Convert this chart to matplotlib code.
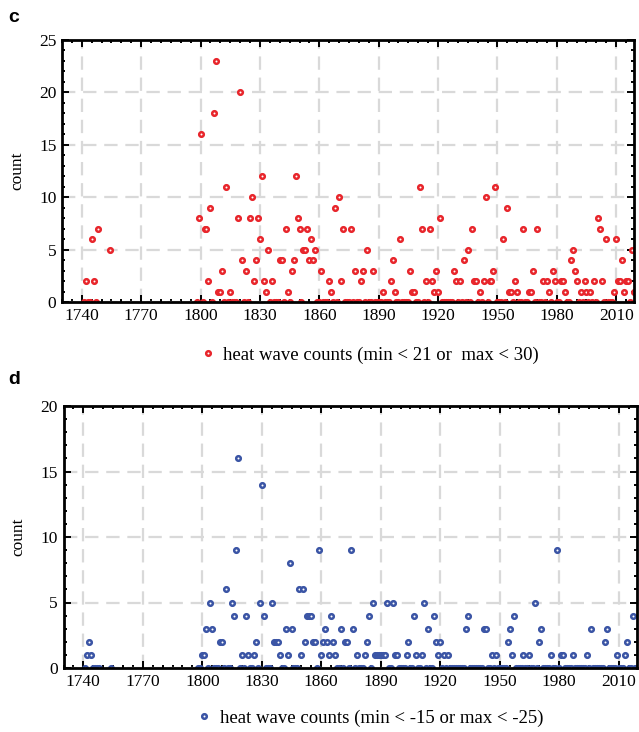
import matplotlib
matplotlib.use("Agg")
from matplotlib import pyplot as plt
from matplotlib.lines import Line2D
from matplotlib.ticker import MultipleLocator

# years with data: a few early years, then yearly 1798-2019
early_years = [1741, 1742, 1743, 1744, 1745, 1746, 1747, 1748, 1754]
main_years = list(range(1798, 2020))

# panel c: heat wave counts (min < 21 or max < 30)
c_early = [0, 2, 0, 0, 6, 2, 0, 7, 5]
c_main = [
    0, 8,                               # 1798-1799
    16, 0, 7, 7, 2, 9, 0, 18, 23, 1,    # 1800s
    1, 3, 0, 11, 0, 1, 0, 0, 0, 8,      # 1810s
    20, 4, 0, 3, 0, 8, 10, 2, 4, 8,     # 1820s
    6, 12, 2, 1, 5, 0, 2, 0, 0, 0,      # 1830s
    4, 4, 0, 7, 1, 0, 3, 4, 12, 8,      # 1840s
    7, 0, 5, 5, 7, 4, 6, 4, 5, 0,       # 1850s
    0, 3, 0, 0, 0, 2, 1, 0, 9, 0,       # 1860s
    10, 2, 7, 0, 0, 0, 7, 0, 3, 0,      # 1870s
    0, 2, 3, 0, 5, 0, 0, 3, 0, 0,       # 1880s
    0, 0, 1, 0, 0, 0, 2, 4, 1, 0,       # 1890s
    0, 6, 0, 0, 0, 0, 3, 1, 1, 0,       # 1900s
    0, 11, 7, 0, 2, 0, 7, 2, 1, 3,      # 1910s
    1, 8, 0, 0, 0, 0, 0, 0, 3, 2,       # 1920s
    0, 2, 0, 4, 0, 5, 0, 7, 2, 2,       # 1930s
    0, 1, 0, 2, 10, 0, 2, 2, 3, 11,     # 1940s
    0, 0, 0, 6, 0, 9, 1, 1, 0, 2,       # 1950s
    1, 0, 0, 7, 0, 0, 1, 1, 3, 0,       # 1960s
    7, 0, 0, 2, 0, 2, 1, 0, 3, 2,       # 1970s
    0, 0, 2, 2, 1, 0, 0, 4, 5, 3,       # 1980s
    2, 0, 1, 0, 2, 1, 0, 1, 0, 2,       # 1990s
    0, 8, 7, 2, 0, 6, 0, 0, 0, 1,       # 2000s
    6, 2, 2, 4, 1, 2, 2, 0, 5, 1,       # 2010s
]

# panel d: counts (min < -15 or max < -25)
d_early = [0, 1, 2, 1, 0, 0, 0, 0, 0]
d_main = [
    0, 0,                               # 1798-1799
    1, 1, 3, 0, 5, 3, 0, 0, 0, 2,       # 1800s
    2, 0, 6, 0, 0, 5, 4, 9, 16, 0,      # 1810s
    1, 0, 4, 1, 0, 0, 1, 2, 0, 5,       # 1820s
    14, 4, 0, 0, 0, 5, 2, 2, 2, 1,      # 1830s
    0, 0, 3, 1, 8, 3, 0, 0, 0, 6,       # 1840s
    1, 6, 2, 4, 4, 4, 2, 2, 0, 9,       # 1850s
    1, 2, 3, 2, 1, 4, 2, 1, 0, 0,       # 1860s
    3, 0, 2, 2, 0, 9, 3, 0, 1, 0,       # 1870s
    0, 0, 1, 2, 4, 0, 5, 1, 1, 1,       # 1880s
    1, 1, 1, 5, 0, 0, 5, 1, 1, 0,       # 1890s
    0, 0, 0, 1, 2, 0, 0, 4, 1, 0,       # 1900s
    0, 1, 5, 0, 3, 0, 0, 4, 2, 1,       # 1910s
    2, 0, 1, 0, 1, 0, 0, 0, 0, 0,       # 1920s
    0, 0, 0, 3, 4, 0, 0, 0, 0, 0,       # 1930s
    0, 0, 3, 3, 0, 0, 1, 0, 1, 0,       # 1940s
    0, 0, 0, 0, 2, 3, 1, 4, 0, 0,       # 1950s
    0, 0, 1, 0, 0, 1, 0, 0, 5, 0,       # 1960s
    2, 3, 0, 0, 0, 0, 1, 0, 0, 9,       # 1970s
    0, 1, 1, 0, 0, 0, 0, 1, 0, 0,       # 1980s
    0, 0, 0, 0, 1, 0, 3, 0, 0, 0,       # 1990s
    0, 0, 0, 2, 3, 0, 0, 0, 0, 1,       # 2000s
    0, 0, 0, 1, 2, 0, 0, 4, 0, 0,       # 2010s
]

x_ticks = [1740, 1770, 1800, 1830, 1860, 1890, 1920, 1950, 1980, 2010]
RED = "#e8262c"
BLUE = "#3b55a5"

plt.rcParams["font.family"] = "Liberation Serif"

MS = 3.3
MEW = 1.8


def style_axes(ax, ymax):
    ax.set_xlim(1730, 2019)
    ax.set_ylim(0, ymax)
    ax.set_xticks(x_ticks)
    ax.xaxis.set_minor_locator(MultipleLocator(5))
    ax.yaxis.set_major_locator(MultipleLocator(5))
    ax.yaxis.set_minor_locator(MultipleLocator(1))
    ax.tick_params(which="both", direction="in", top=True, right=True,
                   labelsize=12.5, width=1.4, pad=4)
    ax.tick_params(which="major", length=5)
    ax.tick_params(which="minor", length=2.5)
    ax.grid(True, which="major", color="#d9d9d9", linestyle=(0, (6, 3.5)), linewidth=1.6)
    ax.set_axisbelow(True)
    for s in ax.spines.values():
        s.set_linewidth(2)
    ax.set_ylabel("count", fontsize=12.5, labelpad=10)


def plot_panel(ax, early, main, color):
    years = early_years + main_years
    vals = early + main
    ax.plot(years, vals, linestyle="none", marker="o", markersize=MS,
            markerfacecolor="white", markeredgecolor=color, markeredgewidth=MEW)


fig = plt.figure(figsize=(6.39, 7.32), dpi=100)
ax_c = fig.add_axes([62 / 639, 1 - 302 / 732, 572 / 639, 262 / 732])
ax_d = fig.add_axes([63.5 / 639, 1 - 668 / 732, 573 / 639, 262 / 732])

plot_panel(ax_c, c_early, c_main, RED)
style_axes(ax_c, 25)
plot_panel(ax_d, d_early, d_main, BLUE)
style_axes(ax_d, 20)

for color, label, ypos in [
    (RED, "heat wave counts (min < 21 or  max < 30)", 355 / 732),
    (BLUE, "heat wave counts (min < -15 or max < -25)", 718 / 732),
]:
    h = Line2D([], [], linestyle="none", marker="o", markersize=MS,
               markerfacecolor="white", markeredgecolor=color, markeredgewidth=MEW)
    fig.legend([h], [label], loc="center", bbox_to_anchor=(371 / 639, 1 - ypos),
               frameon=False, fontsize=13.5, handlelength=0.5, handletextpad=0.6)

fig.text(8 / 639, 1 - 18 / 732, "c", fontsize=14, fontweight="bold",
         family="Liberation Sans", va="center")
fig.text(8 / 639, 1 - 380 / 732, "d", fontsize=14, fontweight="bold",
         family="Liberation Sans", va="center")

fig.savefig("out.png", dpi=100)
